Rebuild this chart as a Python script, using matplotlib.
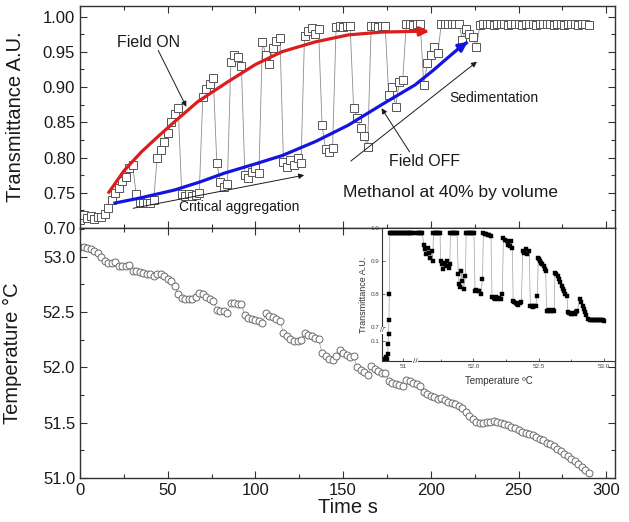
"""Transmittance under an on/off field and the matching temperature ramp.

Top panel: transmittance vs time, bottom panel: temperature vs time,
inset: transmittance vs temperature with broken axes.
"""
import numpy as np
import matplotlib
matplotlib.use("Agg")
import matplotlib.pyplot as plt
from matplotlib.ticker import MultipleLocator, FormatStrFormatter
from matplotlib.transforms import blended_transform_factory

plt.rcParams['font.family'] = ['Liberation Sans', 'DejaVu Sans']

# ---------------------------------------------------------------- data
time_s = np.arange(0, 292, 2)

transmittance = [
    # 0-14 s, no field yet
    0.712, 0.718, 0.714, 0.717, 0.713, 0.716, 0.715, 0.720,
    # 16-30 on
    0.728, 0.740, 0.750, 0.757, 0.766, 0.773, 0.785, 0.790,
    # 32-42 off
    0.748, 0.737, 0.735, 0.736, 0.735, 0.740,
    # 44-56 on
    0.800, 0.810, 0.822, 0.835, 0.850, 0.862, 0.870,
    # 58-68 off
    0.748, 0.745, 0.748, 0.745, 0.747, 0.750,
    # 70-76 on
    0.886, 0.897, 0.905, 0.913,
    # 78-84 off
    0.792, 0.765, 0.758, 0.762,
    # 86-92 on
    0.935, 0.945, 0.942, 0.930,
    # 94-102 off
    0.775, 0.771, 0.780, 0.785, 0.778,
    # 104-114 on
    0.964, 0.945, 0.932, 0.955, 0.966, 0.970,
    # 116-126 off
    0.794, 0.786, 0.797, 0.790, 0.800, 0.792,
    # 128-136 on
    0.972, 0.980, 0.984, 0.975, 0.982,
    # 138-144 off
    0.846, 0.812, 0.808, 0.814,
    # 146-154 on
    0.985, 0.987, 0.985, 0.986, 0.987,
    # 156-164 off
    0.870, 0.856, 0.842, 0.830, 0.815,
    # 166-174 on
    0.986, 0.987, 0.985, 0.987, 0.986,
    # 176-184 off
    0.889, 0.900, 0.872, 0.907, 0.910,
    # 186-194 on
    0.989, 0.990, 0.988, 0.990, 0.989,
    # 196-204 off
    0.903, 0.934, 0.945, 0.957, 0.948,
    # 206-216 on
    0.990, 0.989, 0.990, 0.990, 0.989, 0.990,
    # 218-226
    0.967, 0.983, 0.975, 0.971, 0.957,
    # 228-290 steady
    0.988, 0.989, 0.990, 0.989, 0.988, 0.990, 0.989, 0.989,
    0.988, 0.990, 0.989, 0.990, 0.988, 0.989, 0.990, 0.989,
    0.988, 0.989, 0.990, 0.989, 0.989, 0.988, 0.990, 0.989,
    0.988, 0.989, 0.990, 0.989, 0.988, 0.989, 0.989, 0.988,
]

temperature = [
    53.09, 53.09, 53.08, 53.07, 53.05, 53.03, 53.00, 52.96, 52.94, 52.945,
    52.955, 52.92, 52.915, 52.92, 52.93, 52.87, 52.87, 52.86, 52.855, 52.845,
    52.84, 52.83, 52.84, 52.84, 52.825, 52.80, 52.78, 52.74, 52.66, 52.63,
    52.62, 52.615, 52.62, 52.64, 52.675, 52.66, 52.64, 52.62, 52.60, 52.52,
    52.51, 52.51, 52.495, 52.585, 52.585, 52.575, 52.57, 52.47, 52.45, 52.44,
    52.43, 52.415, 52.405, 52.49, 52.465, 52.455, 52.44, 52.42, 52.31, 52.28,
    52.26, 52.24, 52.24, 52.25, 52.315, 52.29, 52.28, 52.265, 52.255, 52.13,
    52.105, 52.08, 52.07, 52.10, 52.16, 52.13, 52.11, 52.09, 52.10, 52.00,
    51.975, 51.96, 51.935, 52.01, 51.985, 51.97, 51.95, 51.95, 51.875, 51.86,
    51.85, 51.84, 51.83, 51.89, 51.875, 51.86, 51.85, 51.83, 51.78, 51.755,
    51.745, 51.735, 51.71, 51.725, 51.705, 51.69, 51.68, 51.665, 51.655, 51.63,
    51.60, 51.56, 51.53, 51.51, 51.50, 51.50, 51.503, 51.505, 51.512, 51.505,
    51.498, 51.49, 51.483, 51.465, 51.45, 51.43, 51.42, 51.41, 51.40, 51.385,
    51.37, 51.35, 51.34, 51.32, 51.305, 51.29, 51.265, 51.24, 51.22, 51.195,
    51.175, 51.15, 51.125, 51.10, 51.07, 51.045,
]

# hand-drawn guide curves (field ON envelope, field OFF envelope)
red_t = [16, 25, 35, 45, 54, 67, 84, 100, 115, 134, 153, 172, 191, 198]
red_T = [0.749, 0.781, 0.808, 0.831, 0.851, 0.879, 0.907, 0.932, 0.950,
         0.964, 0.974, 0.978, 0.979, 0.979]
blue_t = [19, 35, 54, 68, 82.5, 100, 115.5, 134.5, 153, 172, 191, 201.5,
          208, 216, 221]
blue_T = [0.735, 0.743, 0.754, 0.765, 0.778, 0.791, 0.803, 0.823, 0.846,
          0.875, 0.903, 0.924, 0.938, 0.955, 0.964]

# inset: transmittance vs temperature
inset_temp = [
    50.86, 50.865, 50.87, 50.875, 50.88, 50.884, 50.887, 50.89, 50.893, 50.897,
    50.905, 50.915, 50.925, 50.935, 50.945, 50.955, 50.965, 50.975, 50.985,
    50.995, 51.005, 51.015, 51.025, 51.035, 51.045, 51.055, 51.065, 51.075,
    51.57, 51.58, 51.59, 51.60, 51.61,
    51.62, 51.63, 51.64, 51.65, 51.66, 51.67, 51.68, 51.688,
    51.695, 51.705, 51.715, 51.725, 51.735, 51.745,
    51.75, 51.76, 51.77, 51.78, 51.79, 51.80, 51.81, 51.82,
    51.825, 51.835, 51.845, 51.855, 51.865, 51.875,
    51.885, 51.893, 51.901, 51.909, 51.917, 51.925, 51.94,
    51.945, 51.955, 51.965, 51.975, 51.985, 51.995, 52.005,
    52.013, 52.023, 52.033, 52.043, 52.058, 52.07,
    52.077, 52.09, 52.10, 52.11, 52.12, 52.135,
    52.143, 52.155, 52.165, 52.175, 52.185, 52.195, 52.21, 52.222,
    52.23, 52.242, 52.254, 52.266, 52.278, 52.288, 52.298,
    52.305, 52.315, 52.325, 52.335, 52.345, 52.355, 52.368,
    52.378, 52.39, 52.402, 52.414, 52.428,
    52.436, 52.446, 52.456, 52.466, 52.478, 52.49,
    52.497, 52.505, 52.513, 52.521, 52.529, 52.537, 52.545, 52.554,
    52.56, 52.57, 52.58, 52.59, 52.60, 52.61, 52.618,
    52.625, 52.635, 52.645, 52.655, 52.665, 52.675, 52.685, 52.695, 52.705, 52.715,
    52.725, 52.735, 52.745, 52.755, 52.765, 52.775, 52.785, 52.796,
    52.816, 52.826, 52.836, 52.846, 52.856, 52.866, 52.878, 52.89,
    52.90, 52.91, 52.92, 52.93, 52.94, 52.95, 52.96, 52.97, 52.98, 52.99, 53.00,
]
inset_tr = [
    0.045, 0.040, 0.050, 0.045, 0.060, 0.090, 0.120, 0.720, 0.800, 0.985,
    0.986, 0.985, 0.986, 0.985, 0.986, 0.985, 0.986, 0.985, 0.986,
    0.985, 0.986, 0.985, 0.986, 0.985, 0.986, 0.985, 0.986, 0.985,
    0.985, 0.986, 0.985, 0.986, 0.985,
    0.950, 0.935, 0.920, 0.940, 0.925, 0.910, 0.930, 0.900,
    0.985, 0.986, 0.985, 0.986, 0.985, 0.986,
    0.900, 0.890, 0.875, 0.895, 0.885, 0.900, 0.880, 0.890,
    0.985, 0.986, 0.985, 0.986, 0.985, 0.986,
    0.860, 0.830, 0.820, 0.870, 0.840, 0.815, 0.855,
    0.985, 0.986, 0.985, 0.986, 0.985, 0.986, 0.985,
    0.810, 0.812, 0.808, 0.810, 0.800, 0.845,
    0.985, 0.983, 0.982, 0.980, 0.978, 0.975,
    0.790, 0.788, 0.786, 0.790, 0.785, 0.787, 0.784, 0.800,
    0.970, 0.965, 0.960, 0.950, 0.945, 0.960, 0.940,
    0.780, 0.775, 0.772, 0.770, 0.768, 0.772, 0.775,
    0.930, 0.925, 0.935, 0.920, 0.930,
    0.765, 0.763, 0.762, 0.765, 0.764, 0.795,
    0.910, 0.905, 0.900, 0.895, 0.890, 0.885, 0.875, 0.870,
    0.750, 0.750, 0.751, 0.750, 0.750, 0.751, 0.750,
    0.865, 0.860, 0.855, 0.845, 0.835, 0.825, 0.815, 0.810, 0.800, 0.795,
    0.745, 0.742, 0.740, 0.740, 0.742, 0.740, 0.745, 0.750,
    0.785, 0.775, 0.765, 0.755, 0.745, 0.735, 0.725, 0.720,
    0.722, 0.720, 0.720, 0.721, 0.720, 0.720, 0.720, 0.720, 0.720, 0.720, 0.718,
]

# ---------------------------------------------------------------- helpers
EDGE = '#333333'
TEXT = '#1a1a1a'


def style_main(ax):
    ax.tick_params(which='both', direction='in', top=True, right=True,
                   labelsize=12, colors=EDGE, labelcolor=TEXT, width=0.8)
    ax.tick_params(which='major', length=5)
    ax.tick_params(which='minor', length=3)
    for s in ax.spines.values():
        s.set_linewidth(1.0)
        s.set_color(EDGE)


def arrow(ax, start, end, color=TEXT, lw=0.7, scale=8):
    ax.annotate('', xy=end, xytext=start,
                arrowprops=dict(arrowstyle='-|>', color=color, lw=lw,
                                mutation_scale=scale, shrinkA=0, shrinkB=0))


# broken axes of the inset
X_CUT, X_SHIFT = 51.09, 0.464
Y_CUT, Y_SHIFT = 0.69, 0.559


def fwd_x(x):
    x = np.asarray(x, dtype=float)
    return np.where(x <= X_CUT, x, np.maximum(x - X_SHIFT, X_CUT))


def inv_x(u):
    u = np.asarray(u, dtype=float)
    return np.where(u <= X_CUT, u, u + X_SHIFT)


def fwd_y(y):
    y = np.asarray(y, dtype=float)
    return np.where(y >= Y_CUT, y, np.minimum(y + Y_SHIFT, Y_CUT))


def inv_y(u):
    u = np.asarray(u, dtype=float)
    return np.where(u >= Y_CUT, u, u - Y_SHIFT)


# ---------------------------------------------------------------- figure
fig = plt.figure(figsize=(6.29, 5.22), dpi=100)
ax_top = fig.add_axes([0.1272, 0.5632, 0.8505, 0.4253])
ax_bot = fig.add_axes([0.1272, 0.0843, 0.8505, 0.4789])

# top: transmittance
ax_top.plot(time_s, transmittance, '-', color='#8c8c8c', lw=0.6,
            marker='s', ms=5.5, mfc='white', mec='#555555', mew=0.7)
ax_top.plot(red_t, red_T, color='#dd1c1c', lw=2.3, solid_capstyle='butt')
arrow(ax_top, (red_t[-2], red_T[-2]), (red_t[-1] + 1, red_T[-1]),
      color='#dd1c1c', lw=2.3, scale=13)
ax_top.plot(blue_t, blue_T, color='#1414e0', lw=2.3, solid_capstyle='butt')
arrow(ax_top, (blue_t[-2], blue_T[-2]), (blue_t[-1], blue_T[-1]),
      color='#1414e0', lw=2.3, scale=13)

arrow(ax_top, (30.3, 0.728), (127.8, 0.775))
arrow(ax_top, (154.4, 0.795), (226.3, 0.936))
arrow(ax_top, (44.6, 0.952), (60.6, 0.872))
arrow(ax_top, (187.9, 0.808), (171.9, 0.870))

ax_top.text(38.9, 0.963, 'Field ON', fontsize=11.5, color=TEXT,
            ha='center', va='center')
ax_top.text(90.5, 0.7295, 'Critical aggregation', fontsize=10, color=TEXT,
            ha='center', va='center')
ax_top.text(236, 0.8845, 'Sedimentation', fontsize=10, color=TEXT,
            ha='center', va='center')
ax_top.text(196.6, 0.794, 'Field OFF', fontsize=11.5, color=TEXT,
            ha='center', va='center')
ax_top.text(211, 0.751, 'Methanol at 40% by volume', fontsize=12.5,
            color=TEXT, ha='center', va='center')

ax_top.set_xlim(0, 305)
ax_top.set_ylim(0.70, 1.015)
ax_top.xaxis.set_major_locator(MultipleLocator(50))
ax_top.xaxis.set_minor_locator(MultipleLocator(25))
ax_top.yaxis.set_major_locator(MultipleLocator(0.05))
ax_top.yaxis.set_minor_locator(MultipleLocator(0.025))
ax_top.yaxis.set_major_formatter(FormatStrFormatter('%.2f'))
style_main(ax_top)
ax_top.tick_params(labelbottom=False)
ax_top.set_ylabel('Transmittance A.U.', fontsize=14.5, color=TEXT)
ax_top.yaxis.set_label_coords(-0.103, 0.5)

# bottom: temperature
ax_bot.plot(time_s, temperature, '-', color='#9a9a9a', lw=0.5,
            marker='o', ms=5.0, mfc='white', mec='#6a6a6a', mew=0.7)
ax_bot.set_xlim(0, 305)
ax_bot.set_ylim(51.0, 53.26)
ax_bot.xaxis.set_major_locator(MultipleLocator(50))
ax_bot.xaxis.set_minor_locator(MultipleLocator(25))
ax_bot.yaxis.set_major_locator(MultipleLocator(0.5))
ax_bot.yaxis.set_minor_locator(MultipleLocator(0.25))
ax_bot.yaxis.set_major_formatter(FormatStrFormatter('%.1f'))
style_main(ax_bot)
ax_bot.set_xlabel('Time s', fontsize=14.5, color=TEXT, labelpad=0)
ax_bot.set_ylabel('Temperature °C', fontsize=14.5, color=TEXT)
ax_bot.yaxis.set_label_coords(-0.108, 0.5)

# inset
ax_in = fig.add_axes([382 / 629, 0.3084, 0.9777 - 382 / 629, 0.5632 - 0.3084])
ax_in.set_facecolor('white')
ax_in.set_xscale('function', functions=(fwd_x, inv_x))
ax_in.set_yscale('function', functions=(fwd_y, inv_y))
ax_in.plot(inset_temp, inset_tr, '-', color='#a0a0a0', lw=0.5,
           marker='s', ms=2.2, mfc='black', mec='black', mew=0.3)
ax_in.set_xlim(50.837, 53.084)
ax_in.set_ylim(0.038, 1.0)
ax_in.set_xticks([51.0, 52.0, 52.5, 53.0], ['51', '52.0', '52.5', '53.0'])
ax_in.set_xticks([51.75, 52.25, 52.75], minor=True)
ax_in.set_yticks([0.1, 0.7, 0.8, 0.9, 1.0], ['0.1', '0.7', '0.8', '0.9', '1.0'])
ax_in.tick_params(which='both', direction='in', labelsize=4.5, colors=EDGE,
                  labelcolor='#444444', width=0.5, pad=2)
ax_in.tick_params(which='major', length=2.5)
ax_in.tick_params(which='minor', length=1.5)
for s in ax_in.spines.values():
    s.set_linewidth(0.8)
    s.set_color(EDGE)
ax_in.set_xlabel('Temperature ºC', fontsize=7, color='#333333', labelpad=5)
ax_in.set_ylabel('Transmittance A.U.', fontsize=6.5, color='#333333',
                 labelpad=2)

# break marks
ax_in.text(X_CUT, 0, '//', fontsize=6, color=EDGE, ha='center', va='center',
           transform=blended_transform_factory(ax_in.transData, ax_in.transAxes),
           bbox=dict(fc='white', ec='none', pad=0.2))
ax_in.text(0, Y_CUT, '//', fontsize=5, color=EDGE, ha='center', va='center',
           transform=blended_transform_factory(ax_in.transAxes, ax_in.transData),
           bbox=dict(fc='white', ec='none', pad=0.1))

fig.savefig('out.png', dpi=100)
